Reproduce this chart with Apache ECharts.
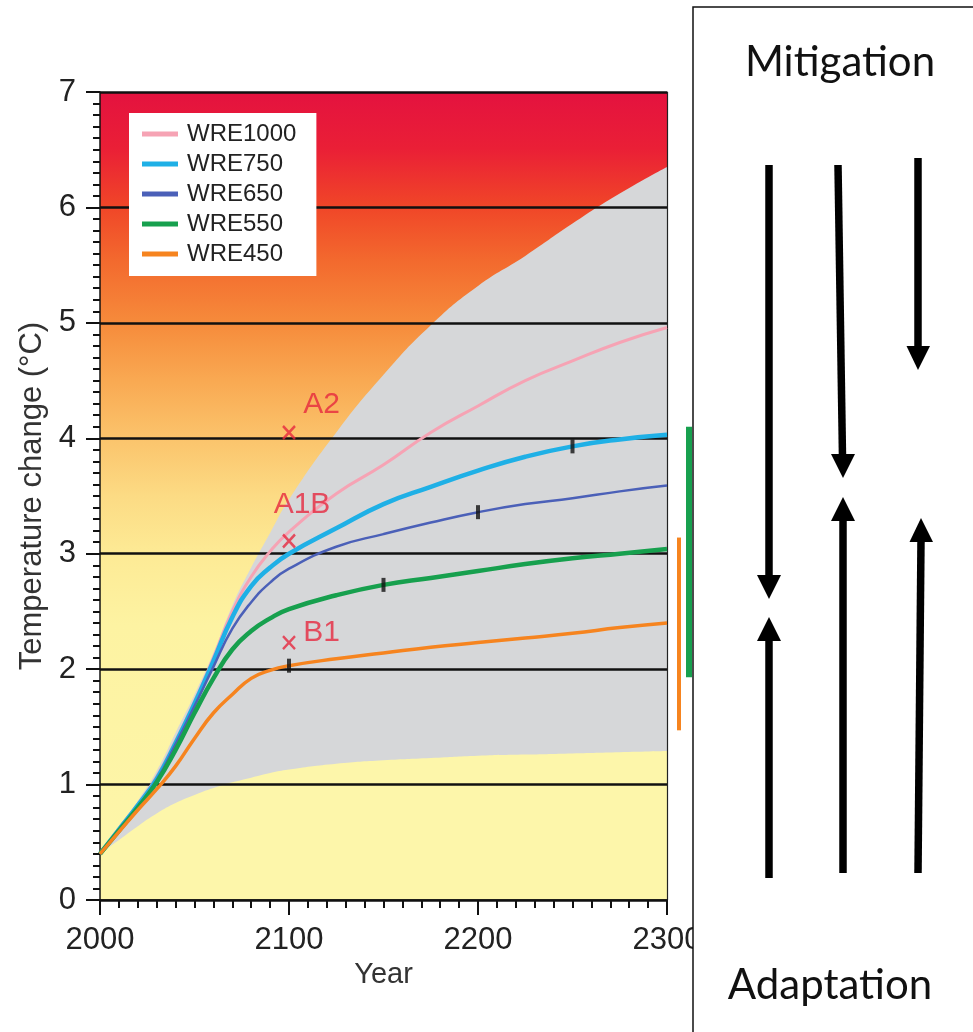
<!DOCTYPE html>
<html>
<head>
<meta charset="utf-8">
<script src="https://cdn.jsdelivr.net/npm/echarts@6/dist/echarts.min.js"></script>
<style>
  html, body { margin: 0; padding: 0; background: #ffffff; }
  #chart { width: 973px; height: 1032px; }
</style>
</head>
<body>
<div id="chart"></div>
<script>
// Years sampled along each pathway
const years = [2000, 2010, 2020, 2030, 2040, 2050, 2060, 2070, 2080, 2090, 2100,
               2125, 2150, 2175, 2200, 2225, 2250, 2275, 2300];

// Global mean temperature change (°C) for the WRE stabilisation pathways
const wre1000 = [0.40, 0.62, 0.83, 1.07, 1.38, 1.72, 2.10, 2.50, 2.80, 3.02, 3.19,
                 3.52, 3.77, 4.05, 4.28, 4.50, 4.67, 4.83, 4.96];
const wre750  = [0.40, 0.61, 0.82, 1.05, 1.36, 1.70, 2.07, 2.45, 2.72, 2.88, 3.00,
                 3.22, 3.43, 3.58, 3.72, 3.84, 3.93, 3.99, 4.03];
const wre650  = [0.40, 0.61, 0.81, 1.04, 1.35, 1.68, 2.02, 2.35, 2.58, 2.75, 2.87,
                 3.06, 3.17, 3.27, 3.36, 3.43, 3.48, 3.54, 3.59];
const wre550  = [0.40, 0.60, 0.80, 1.02, 1.30, 1.62, 1.92, 2.17, 2.33, 2.44, 2.52,
                 2.64, 2.73, 2.79, 2.85, 2.91, 2.96, 3.00, 3.04];
const wre450  = [0.40, 0.59, 0.78, 0.96, 1.16, 1.40, 1.62, 1.78, 1.92, 1.99, 2.03,
                 2.09, 2.14, 2.19, 2.23, 2.27, 2.31, 2.36, 2.40];

// Uncertainty envelope (upper and lower bounds, °C)
const envelopeUpper = [0.40, 0.63, 0.86, 1.12, 1.45, 1.78, 2.14, 2.55, 2.88, 3.18, 3.47,
                       4.05, 4.55, 4.98, 5.32, 5.58, 5.86, 6.12, 6.35];
const envelopeLower = [0.40, 0.52, 0.64, 0.75, 0.84, 0.91, 0.97, 1.02, 1.06, 1.10, 1.13,
                       1.18, 1.21, 1.23, 1.25, 1.26, 1.27, 1.28, 1.29];

// Year at which each pathway's concentration is stabilised
const stabilisationSeries = ['WRE450', 'WRE550', 'WRE650', 'WRE750'];
const stabilisationYears  = [2100, 2150, 2200, 2250];

// SRES scenario warming in 2100
const sresNames  = ['A2', 'A1B', 'B1'];
const sresYears  = [2100, 2100, 2100];
const sresValues = [4.05, 3.11, 2.23];

// Equilibrium warming ranges shown beside the plot (°C)
const rangeNames = ['WRE450', 'WRE550'];
const rangeLow   = [1.47, 1.93];
const rangeHigh  = [3.14, 4.10];

// Axis ticks
const xTicks = [2000, 2100, 2200, 2300];
const yTicks = [0, 1, 2, 3, 4, 5, 6, 7];

const seriesNames  = ['WRE1000', 'WRE750', 'WRE650', 'WRE550', 'WRE450'];
const seriesValues = [wre1000, wre750, wre650, wre550, wre450];
const seriesColors = {
  WRE1000: '#f6a3b4', WRE750: '#1fb0e6', WRE650: '#4b60b8', WRE550: '#17a04e', WRE450: '#f6841f'
};
const seriesWidths = { WRE1000: 3, WRE750: 4.5, WRE650: 2.5, WRE550: 4.5, WRE450: 3.5 };
const rangeOffsets = { WRE450: 12, WRE550: 22 };
const rangeWidths  = { WRE450: 4, WRE550: 6 };

const pairs = arr => years.map((y, i) => [y, arr[i]]);
const valueAt = (name, year) => seriesValues[seriesNames.indexOf(name)][years.indexOf(year)];

const font = '"Liberation Sans", Arial, Helvetica, sans-serif';
const chart = echarts.init(document.getElementById('chart'), null, { renderer: 'canvas' });

// Background shading: warming hazard from pale yellow (low) to crimson (high)
const paleYellow = '#fdf6aa';
const hazardGradient = new echarts.graphic.LinearGradient(0, 0, 0, 1, [
  { offset: 0.00, color: '#e4123f' },
  { offset: 0.07, color: '#ea1f36' },
  { offset: 0.14, color: '#f04528' },
  { offset: 0.21, color: '#f36a2e' },
  { offset: 0.286, color: '#f68b3b' },
  { offset: 0.357, color: '#f9a952' },
  { offset: 0.43, color: '#fbc46c' },
  { offset: 0.50, color: '#fcdb84' },
  { offset: 0.57, color: '#fdea95' },
  { offset: 0.66, color: '#fdf3a2' },
  { offset: 1.00, color: paleYellow }
]);

const lineSeries = seriesNames.map((name, k) => ({
  name: name,
  type: 'line',
  data: pairs(seriesValues[k]),
  smooth: true,
  symbol: 'none',
  z: 5 + k,
  lineStyle: { color: seriesColors[name], width: seriesWidths[name] },
  itemStyle: { color: seriesColors[name] }
}));

const axisCommon = { z: 3 };

const option = {
  animation: false,
  backgroundColor: '#ffffff',
  grid: {
    left: 100, right: 306, top: 92, bottom: 132,
    show: true, backgroundColor: hazardGradient, borderWidth: 0
  },
  legend: {
    data: seriesNames,
    orient: 'vertical',
    left: 129, top: 113,
    backgroundColor: '#ffffff',
    padding: [9, 20, 10, 13],
    itemGap: 6,
    itemWidth: 36,
    itemHeight: 5,
    icon: 'rect',
    selectedMode: false,
    textStyle: { fontFamily: font, fontSize: 24, lineHeight: 23, color: '#222', padding: [0, 0, 0, 4] }
  },
  xAxis: Object.assign({}, axisCommon, {
    type: 'value',
    min: 2000, max: 2300, interval: 100,
    name: 'Year',
    nameLocation: 'middle',
    nameGap: 56,
    nameTextStyle: { fontFamily: font, fontSize: 29, color: '#333' },
    axisLine: { show: true, lineStyle: { color: '#111', width: 1.5 } },
    axisTick: { show: true, length: 15, lineStyle: { color: '#111', width: 2 } },
    minorTick: { show: true, splitNumber: 10, length: 8, lineStyle: { color: '#111', width: 2 } },
    axisLabel: {
      fontFamily: font, fontSize: 31, color: '#222', margin: 25,
      customValues: xTicks,
      formatter: v => String(v)
    },
    splitLine: { show: false }
  }),
  yAxis: [Object.assign({}, axisCommon, {
    type: 'value',
    min: 0, max: 7, interval: 1,
    name: 'Temperature change (°C)',
    nameLocation: 'middle',
    nameGap: 52,
    nameRotate: 90,
    nameTextStyle: { fontFamily: font, fontSize: 31, color: '#333' },
    axisLine: { show: true, lineStyle: { color: '#111', width: 1.5 } },
    axisTick: { show: true, length: 14, lineStyle: { color: '#111', width: 2 } },
    minorTick: { show: true, splitNumber: 10, length: 7, lineStyle: { color: '#111', width: 2 } },
    axisLabel: {
      fontFamily: font, fontSize: 31, color: '#222', margin: 24,
      customValues: yTicks,
      formatter: v => String(v)
    },
    splitLine: { show: true, lineStyle: { color: '#111', width: 2.5 } }
  }), Object.assign({}, axisCommon, {
    type: 'value',
    min: 0, max: 7,
    position: 'right',
    axisLine: { show: true, lineStyle: { color: '#222', width: 1.2 } },
    axisTick: { show: false },
    axisLabel: { show: false },
    splitLine: { show: false }
  })],
  series: [
    {
      // Upper bound of the uncertainty envelope, grey fill down to the axis
      name: 'envelopeUpper',
      type: 'line',
      data: pairs(envelopeUpper),
      smooth: true,
      symbol: 'none',
      silent: true,
      z: 2,
      lineStyle: { width: 0 },
      areaStyle: { color: '#d6d7d9', opacity: 1 }
    },
    {
      // Lower bound: restores the pale background beneath the envelope
      name: 'envelopeLower',
      type: 'line',
      data: pairs(envelopeLower),
      smooth: true,
      symbol: 'none',
      silent: true,
      z: 2,
      lineStyle: { width: 0 },
      areaStyle: { color: paleYellow, opacity: 1 }
    },
    ...lineSeries,
    {
      // Stabilisation markers on each pathway
      name: 'stabilisation',
      type: 'scatter',
      silent: true,
      z: 20,
      symbol: 'rect',
      symbolSize: [4, 14],
      itemStyle: { color: '#111' },
      data: stabilisationSeries.map((n, i) => [stabilisationYears[i], valueAt(n, stabilisationYears[i])])
    },
    {
      // SRES scenario crosses with labels
      name: 'sres',
      type: 'scatter',
      silent: true,
      z: 21,
      symbol: 'path://M0,0L10,11M10,0L0,11',
      symbolSize: [12, 13],
      itemStyle: { color: 'rgba(0,0,0,0)', borderColor: '#e6283f', borderWidth: 2.5 },
      label: {
        show: true,
        fontFamily: font, fontSize: 30, color: '#e6283f',
        formatter: p => p.name
      },
      data: sresNames.map((n, i) => {
        const item = { name: n, value: [sresYears[i], sresValues[i]] };
        if (n === 'A1B') item.label = { position: 'top', offset: [13, -8] };
        else if (n === 'A2') item.label = { position: 'right', offset: [2, -28] };
        else item.label = { position: 'right', offset: [2, -10] };
        return item;
      })
    },
    {
      // Equilibrium ranges drawn just right of the plot area
      name: 'ranges',
      type: 'custom',
      clip: false,
      silent: true,
      z: 10,
      encode: { x: 0, y: [1, 2] },
      data: rangeNames.map((n, i) => ({ name: n, value: [2300, rangeLow[i], rangeHigh[i]] })),
      renderItem: function (params, api) {
        const n = rangeNames[params.dataIndex];
        const lo = api.coord([api.value(0), api.value(1)]);
        const hi = api.coord([api.value(0), api.value(2)]);
        const w = rangeWidths[n];
        return {
          type: 'rect',
          shape: { x: lo[0] + rangeOffsets[n] - w / 2, y: hi[1], width: w, height: lo[1] - hi[1] },
          style: { fill: seriesColors[n] }
        };
      }
    }
  ],
  graphic: {
    elements: [
      // Side panel: mitigation versus adaptation
      {
        type: 'rect', z: 100,
        shape: { x: 693, y: 7, width: 320, height: 1100 },
        style: { fill: '#ffffff', stroke: '#111', lineWidth: 1.5 }
      },
      {
        type: 'text', z: 101, x: 840, y: 62,
        style: { text: 'Mitigation', font: '42px Lato, "Open Sans", sans-serif', fill: '#111', align: 'center', verticalAlign: 'middle' }
      },
      {
        type: 'text', z: 101, x: 830, y: 985,
        style: { text: 'Adaptation', font: '42px Lato, "Open Sans", sans-serif', fill: '#111', align: 'center', verticalAlign: 'middle' }
      },
      // Arrows
      { type: 'line', z: 101, shape: { x1: 769, y1: 165, x2: 769, y2: 578 }, style: { stroke: '#000', lineWidth: 7.5 } },
      { type: 'polygon', z: 101, shape: { points: [[757, 575], [781, 575], [769, 599]] }, style: { fill: '#000' } },
      { type: 'line', z: 101, shape: { x1: 769, y1: 878, x2: 769, y2: 639 }, style: { stroke: '#000', lineWidth: 7.5 } },
      { type: 'polygon', z: 101, shape: { points: [[757, 641], [781, 641], [769, 617]] }, style: { fill: '#000' } },

      { type: 'line', z: 101, shape: { x1: 838, y1: 165, x2: 842.5, y2: 457 }, style: { stroke: '#000', lineWidth: 7.5 } },
      { type: 'polygon', z: 101, shape: { points: [[831, 454], [855, 454], [843, 478]] }, style: { fill: '#000' } },
      { type: 'line', z: 101, shape: { x1: 843, y1: 873, x2: 843, y2: 519 }, style: { stroke: '#000', lineWidth: 7.5 } },
      { type: 'polygon', z: 101, shape: { points: [[831, 521], [855, 521], [843, 497]] }, style: { fill: '#000' } },

      { type: 'line', z: 101, shape: { x1: 918, y1: 158, x2: 918, y2: 349 }, style: { stroke: '#000', lineWidth: 7.5 } },
      { type: 'polygon', z: 101, shape: { points: [[906.5, 346], [930, 346], [918, 370]] }, style: { fill: '#000' } },
      { type: 'line', z: 101, shape: { x1: 918, y1: 873, x2: 921, y2: 540 }, style: { stroke: '#000', lineWidth: 7.5 } },
      { type: 'polygon', z: 101, shape: { points: [[909.5, 542], [933, 542], [921, 518]] }, style: { fill: '#000' } }
    ]
  }
};

chart.setOption(option);
</script>
</body>
</html>
